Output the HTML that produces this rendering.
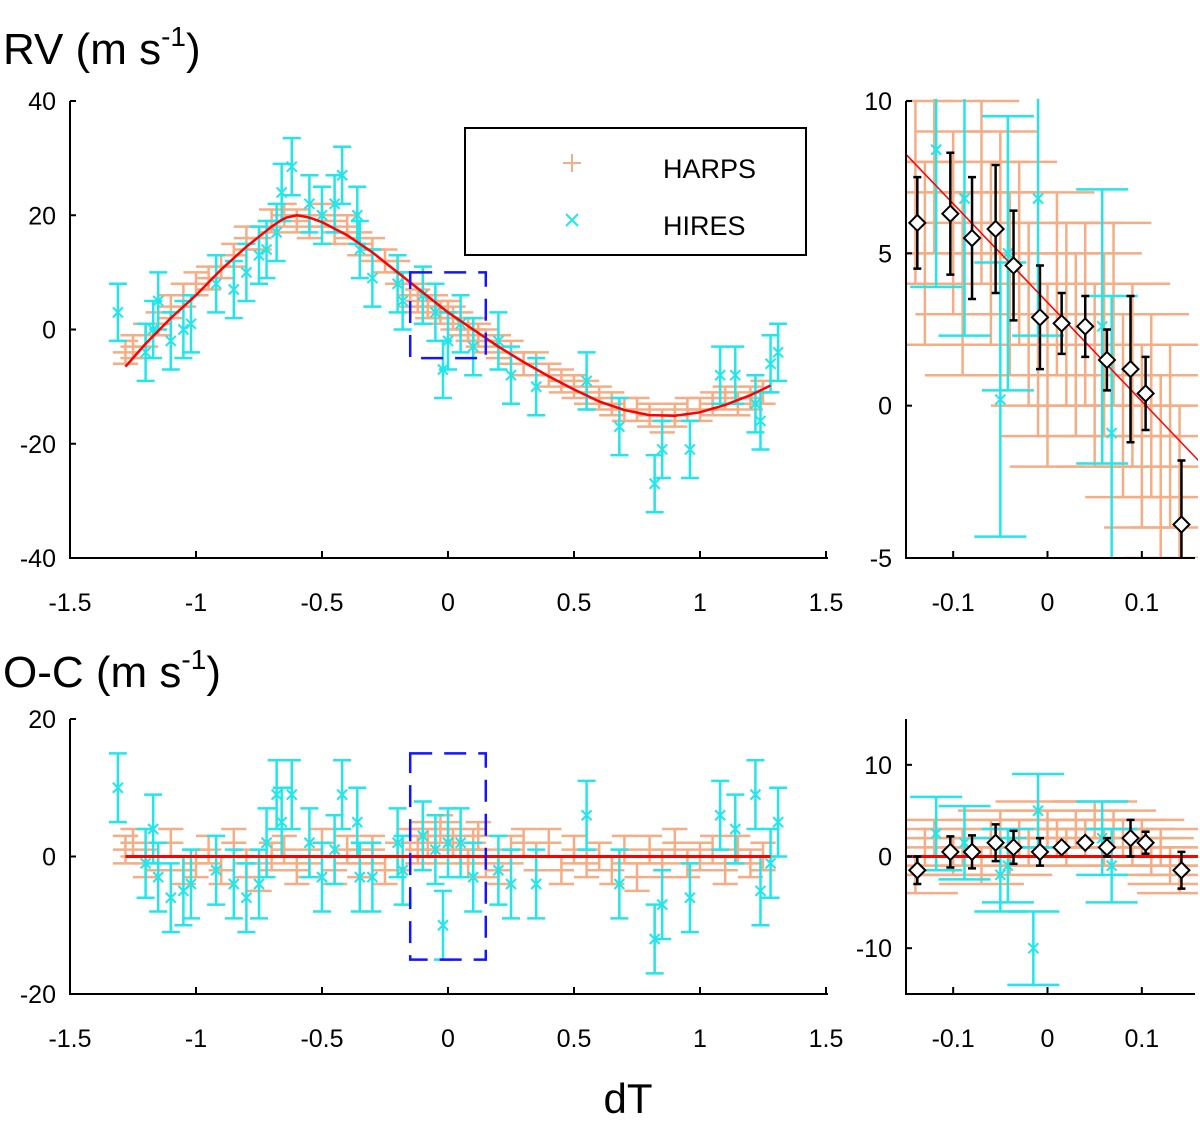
<!DOCTYPE html>
<html><head><meta charset="utf-8"><style>
body{margin:0;background:#fff;}
svg{display:block;font-family:"Liberation Sans",sans-serif;}
</style></head><body>
<svg id="chart" width="1200" height="1127" viewBox="0 0 1200 1127">
<text x="3" y="64" font-size="44">RV (m s<tspan dy="-18" font-size="28">-1</tspan><tspan dy="18">)</tspan></text>
<text x="3" y="687" font-size="44">O-C (m s<tspan dy="-18" font-size="28">-1</tspan><tspan dy="18">)</tspan></text>
<text x="628" y="1113" font-size="42" text-anchor="middle">dT</text>
<g id="layers"></g>
<g>
<rect x="465" y="128" width="341" height="127" fill="#fff" stroke="#000" stroke-width="2"/>
<g><path d="M563 163h18M572 154v18" stroke="#f5ad85" stroke-width="2"/><text x="663" y="178" font-size="27">HARPS</text></g>
<g><path d="M566 214l12 12M578 214l-12 12" stroke="#22e6ea" stroke-width="2"/><text x="663" y="235" font-size="27">HIRES</text></g>
</g>
</svg>
<script>
// model curve
const modelX=[-1.28,-1.2,-1.1,-1.0,-0.9,-0.8,-0.7,-0.65,-0.6,-0.55,-0.5,-0.4,-0.3,-0.2,-0.1,0,0.1,0.2,0.3,0.4,0.5,0.6,0.7,0.8,0.9,1.0,1.1,1.2,1.28];
const modelY=[-6.5,-2.5,2,6,10.5,14.5,18,19.5,20,19.6,18.8,16.5,13.5,10,6.5,3,0,-3,-5.7,-8.2,-10.5,-12.6,-14.1,-15,-15.1,-14.5,-13.2,-11.5,-9.8];
// HARPS
const harpsX=[-1.28,-1.25,-1.2,-1.15,-1.1,-1.05,-1.0,-0.95,-0.9,-0.85,-0.8,-0.75,-0.7,-0.65,-0.6,-0.55,-0.5,-0.45,-0.4,-0.35,-0.3,-0.25,-0.2,-0.15,-0.12,-0.1,-0.08,-0.05,-0.03,0,0.02,0.05,0.08,0.1,0.12,0.15,0.2,0.25,0.3,0.35,0.4,0.45,0.5,0.55,0.6,0.65,0.7,0.75,0.8,0.85,0.9,0.95,1.0,1.05,1.1,1.15,1.2,1.25];
const harpsRV=[-4,-3,-1,1,4,6,8,9,11,13,16,16,19,20,19,18,20,17,18,15,14,12,10,6,5,6,4,4,3,3,2,1,0,0,-1,-2,-3,-4,-6,-6,-8,-9,-10,-11,-12,-13,-14,-14,-15,-16,-15,-14,-14,-13,-12,-13,-12,-11];
const harpsOC=[1,2,-1,0,2,-2,-1,1,-2,2,-1,-3,0,1,-2,-1,2,-2,1,-1,1,-2,0,2,1,3,2,1,4,3,2,1,-1,2,3,-1,-2,1,2,0,2,-2,1,-1,0,-2,1,-3,1,-1,2,-1,0,1,-2,1,-1,0];
// HIRES
const hiresX=[-1.31,-1.2,-1.17,-1.15,-1.1,-1.05,-1.02,-0.92,-0.85,-0.8,-0.75,-0.72,-0.68,-0.66,-0.62,-0.55,-0.5,-0.45,-0.42,-0.36,-0.35,-0.3,-0.2,-0.18,-0.1,-0.05,-0.02,0.0,0.05,0.1,0.2,0.25,0.35,0.55,0.68,0.82,0.85,0.96,1.08,1.14,1.22,1.24,1.28,1.31];
const hiresRV=[3,-4,0,5,-2,0,1,8,7,10,13,14,17,24,28.5,22,20,22,27,20,14,9,8,5,6,3,-7,-2,1,-3,-2,-8,-10,-9,-17,-27,-21,-21,-8,-8,-13,-16,-6,-4];
const hiresOC=[10,-1,4,-3,-6,-5,-4,-2,-4,-6,-4,2,9,5,9,2,-3,1,9,5,-3,-3,2,-2,3,1,-10,2,2,-3,-2,-4,-4,6,-4,-12,-7,-6,6,4,9,-5,-1,5];
// zoom panel data
const binX=[-0.138,-0.103,-0.08,-0.055,-0.036,-0.008,0.015,0.04,0.063,0.088,0.104,0.142];
const binRV=[6.0,6.3,5.5,5.8,4.6,2.9,2.7,2.6,1.5,1.2,0.4,-3.9];
const binRVerr=[1.5,2.0,2.0,2.1,1.8,1.7,1.0,1.0,1.0,2.4,1.2,2.1];
const binOC=[-1.5,0.5,0.5,1.5,1,0.5,1,1.5,1,2,1.5,-1.5];
const binOCerr=[1.5,1.7,1.8,2,1.8,1.5,0.5,0.5,1,2,1.2,2];
const zHarpsX=[-0.14,-0.13,-0.12,-0.1,-0.09,-0.07,-0.06,-0.05,-0.04,-0.03,-0.02,-0.01,0,0.01,0.02,0.03,0.04,0.05,0.06,0.07,0.08,0.09,0.1,0.11,0.12,0.13,0.14];
const zHarpsRV=[7,5,8,6,4,7,5,6,4,5,3,2,1,4,3,2,3,1,2,3,0,1,-1,0,-2,-1,-3];
const zHarpsOC=[-2,1,2,0,1,-1,2,3,0,2,1,4,3,2,1,3,2,4,1,3,2,1,2,0,1,-1,-2];
const zHiresX=[-0.118,-0.088,-0.05,-0.042,-0.01,0.068,0.058];
const zHiresRV=[8.4,6.8,0.2,5.0,6.8,-0.9,2.6];
const zHiresOC=[2.5,1.5,-2,-1,5,-1,2];

const NS='http://www.w3.org/2000/svg';
const layers=document.getElementById('layers');
function el(tag,attrs,parent){const e=document.createElementNS(NS,tag);for(const k in attrs)e.setAttribute(k,attrs[k]);(parent||layers).appendChild(e);return e;}
function lin(d0,d1,r0,r1){return v=>r0+(v-d0)/(d1-d0)*(r1-r0);}
function model(x){for(let i=0;i<modelX.length-1;i++){if(x<=modelX[i+1]){const t=(x-modelX[i])/(modelX[i+1]-modelX[i]);return modelY[i]+t*(modelY[i+1]-modelY[i]);}}return modelY[modelY.length-1];}
const OR='#f5ad85',CY='#22e6ea';

function panel(name,px0,px1,py0,py1,xd,yd,xticks,yticks,xlabels){
  const g=el('g',{});
  
  
  const cid='clip-'+name;
  const cp=el('clipPath',{id:cid},g);el('rect',{x:px0+1,y:py0-2,width:px1-px0+8,height:py1-py0+2},cp);
  const X=lin(xd[0],xd[1],px0,px1),Y=lin(yd[0],yd[1],py1,py0);
  const plot=el('g',{'clip-path':'url(#'+cid+')'},g);
  const ax=el('g',{stroke:'#000','stroke-width':2,fill:'none'},g);
  
  
  el('path',{d:`M${px0} ${py0}V${py1}H${px1+(name.includes('zoom')?6:2)}`},ax);
  const tg=el('g',{'font-size':25,'text-anchor':'middle',fill:'#000'},g);
  xticks.forEach((t,i)=>{const x=X(t);el('path',{d:`M${x} ${py1}v-7`},ax);const tx=el('text',{x:x,y:py1+53},tg);tx.textContent=xlabels[i];});
  yticks.forEach(t=>{const y=Y(t);el('path',{d:`M${px0} ${y}h6`},ax);const tx=el('text',{x:px0-14,y:y+9,'text-anchor':'end'},tg);tx.textContent=String(t);});
  return {X,Y,plot,g};
}
function ebar(p,x,y,dy,cap,color,w){
  const cx=p.X(x),t=p.Y(y+dy),b=p.Y(y-dy);
  el('path',{d:`M${cx} ${t}V${b}M${cx-cap} ${t}h${2*cap}M${cx-cap} ${b}h${2*cap}`,stroke:color,'stroke-width':w||2.5,fill:'none'},p.plot);
}
function hbar(p,x,y,dx,dy,color){
  const cx=p.X(x),cy=p.Y(y),l=p.X(x-dx),r=p.X(x+dx),t=p.Y(y+dy),b=p.Y(y-dy);
  el('path',{d:`M${l} ${cy}H${r}M${cx} ${t}V${b}M${l} ${t}H${r}M${l} ${b}H${r}`,stroke:color,'stroke-width':2.5,fill:'none'},p.plot);
}
function cross(p,x,y,color){const cx=p.X(x),cy=p.Y(y);el('path',{d:`M${cx-5} ${cy-5}l10 10M${cx+5} ${cy-5}l-10 10`,stroke:color,'stroke-width':2},p.plot);}
function diamond(p,x,y){const cx=p.X(x),cy=p.Y(y);const d=el('path',{d:`M${cx} ${cy-8}L${cx+8} ${cy}L${cx} ${cy+8}L${cx-8} ${cy}Z`,fill:'#fff',stroke:'#000','stroke-width':2},p.plot);}
function curve(p,xs,fn,color,w){let d='';xs.forEach((x,i)=>{d+=(i?'L':'M')+p.X(x)+' '+p.Y(fn(x));});el('path',{d:d,stroke:color,'stroke-width':w,fill:'none'},p.plot);}
function box(p,x0,x1,y0,y1){el('rect',{x:p.X(x0),y:p.Y(y1),width:p.X(x1)-p.X(x0),height:p.Y(y0)-p.Y(y1),fill:'none',stroke:'#1414ff','stroke-width':2.5,'stroke-dasharray':'22 12'},p.g);}

const mainTicks=[-1.5,-1,-0.5,0,0.5,1,1.5],mainLab=['-1.5','-1','-0.5','0','0.5','1','1.5'];
const zTicks=[-0.1,0,0.1],zLab=['-0.1','0','0.1'];
// Top main
const A=panel('rv-main',70,826,101,558,[-1.5,1.5],[-40,40],mainTicks,[-40,-20,0,20,40],mainLab);
harpsX.forEach((x,i)=>hbar(A,x,harpsRV[i],0.05,2.0,OR));
hiresX.forEach((x,i)=>{ebar(A,x,hiresRV[i],5,9,CY);cross(A,x,hiresRV[i],CY);});
const cx=[];for(let i=0;i<=128;i++)cx.push(-1.28+i*0.02);
curve(A,cx,model,'#ff0000',2.5);
box(A,-0.15,0.15,-5,10);
// Top zoom
const B=panel('rv-zoom',906,1189,101,558,[-0.15,0.15],[-5,10],zTicks,[-5,0,5,10],zLab);
zHarpsX.forEach((x,i)=>hbar(B,x,zHarpsRV[i],0.04,3,OR));
zHiresX.forEach((x,i)=>{ebar(B,x,zHiresRV[i],4.5,26,CY);cross(B,x,zHiresRV[i],CY);});
curve(B,[-0.15,0.16],model,'#ff0000',1.5);
binX.forEach((x,i)=>{ebar(B,x,binRV[i],binRVerr[i],4,'#000',2.5);diamond(B,x,binRV[i]);});
// Bottom main
const C=panel('oc-main',70,826,719,994,[-1.5,1.5],[-20,20],mainTicks,[-20,0,20],mainLab);
harpsX.forEach((x,i)=>hbar(C,x,harpsOC[i],0.05,2.0,OR));
hiresX.forEach((x,i)=>{ebar(C,x,hiresOC[i],5,9,CY);cross(C,x,hiresOC[i],CY);});
curve(C,[-1.28,1.28],()=>0,'#ff0000',3);
box(C,-0.15,0.15,-15,15);
// Bottom zoom
const D=panel('oc-zoom',906,1189,719,994,[-0.15,0.15],[-15,15],zTicks,[-10,0,10],zLab);
zHarpsX.forEach((x,i)=>hbar(D,x,zHarpsOC[i],0.045,2,OR));
zHiresX.forEach((x,i)=>{ebar(D,x,zHiresOC[i],4,26,CY);cross(D,x,zHiresOC[i],CY);});
ebar(D,-0.015,-10,4,26,CY);cross(D,-0.015,-10,CY);
curve(D,[-0.15,0.16],()=>0,'#ff0000',3);
binX.forEach((x,i)=>{ebar(D,x,binOC[i],binOCerr[i],4,'#000',2.5);diamond(D,x,binOC[i]);});
</script>
</body></html>
